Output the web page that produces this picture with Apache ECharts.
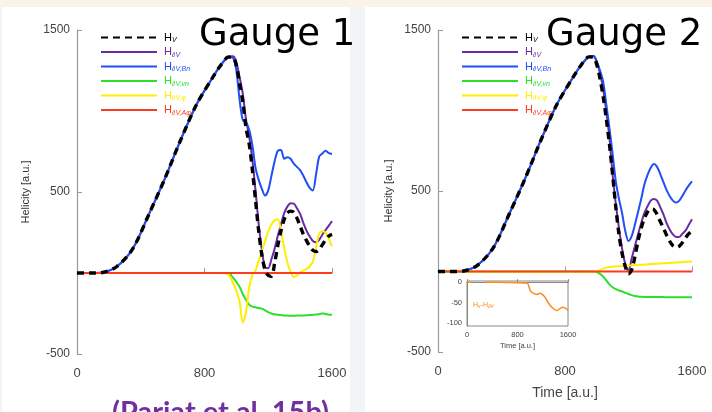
<!DOCTYPE html>
<html><head><meta charset="utf-8">
<script src="https://cdn.jsdelivr.net/npm/echarts@6.0.0/dist/echarts.min.js"></script>
<style>html,body{margin:0;padding:0;width:712px;height:412px;overflow:hidden;background:#fff}#c{width:712px;height:412px}</style>
</head><body><div id="c"></div><script>
// shared time axis for the helicity curves
const T = [0,100,160,250,350,450,550,650,750,850,900,950,980,1000,1020,1040,1060,1080,1100,1120,1140,1160,1180,1200,1220,1240,1260,1280,1300,1320,1340,1360,1380,1400,1420,1440,1460,1480,1500,1520,1540,1560,1580,1600];
// time axis for the boundary-flux terms (flat zero before ~900)
const T2 = [0,900,950,980,1000,1020,1040,1060,1080,1100,1120,1140,1160,1180,1200,1220,1240,1260,1280,1300,1320,1340,1360,1380,1400,1420,1440,1460,1480,1500,1520,1540,1560,1580,1600];
const RISE = [0,0,3,40,150,360,580,820,1040,1205,1280,1333];

// Gauge 1
const g1_Hv   = RISE.concat([1330,1280,1170,1060,900,800,640,450,260,110,20,-15,-20,60,170,260,330,370,382,375,340,290,240,200,165,140,132,145,175,205,228,238]);
const g1_HdV  = RISE.concat([1338,1300,1210,1108,950,845,700,510,300,140,35,30,85,150,230,300,370,410,430,428,400,365,310,262,225,198,190,205,238,265,292,320]);
const g1_Bn   = RISE.concat([1325,1250,1070,945,930,885,790,650,575,520,478,510,600,690,755,760,705,715,705,675,655,635,600,560,525,510,610,720,738,755,740,735]);
const g1_vn   = [0,0,0,-30,-55,-85,-130,-165,-195,-208,-212,-216,-220,-230,-242,-250,-255,-258,-260,-262,-263,-264,-264,-263,-262,-262,-261,-260,-258,-256,-253,-250,-253,-257,-258];
const g1_phi  = [0,0,-10,-65,-110,-175,-305,-245,-90,-15,15,75,135,195,255,300,325,332,260,155,65,10,-25,-15,5,15,25,40,70,160,245,258,250,210,165];
// Gauge 2
const g2_Hv   = RISE.concat([1330,1285,1200,1090,950,790,600,400,230,110,30,-15,10,90,190,270,330,370,388,385,355,310,270,225,187,160,150,158,180,210,235,250]);
const g2_HdV  = RISE.concat([1337,1300,1235,1135,995,830,600,420,270,140,45,5,80,155,230,300,365,405,440,450,440,400,355,300,260,230,214,215,235,255,290,325]);
const g2_Bn   = RISE.concat([1338,1305,1250,1180,1040,890,730,560,450,360,250,190,220,290,370,450,540,600,645,668,650,605,555,505,468,440,428,440,470,505,535,560]);
const g2_vn   = [0,0,0,0,-3,-15,-31,-55,-80,-98,-110,-118,-124,-132,-140,-147,-152,-155,-157,-158,-158,-159,-159,-159,-159,-159,-160,-160,-160,-160,-160,-160,-160,-160,-160];
const g2_phi  = [0,-3,-2,0,2,8,18,24,28,30,31,33,34,35,37,38,40,41,42,43,44,46,47,48,50,51,52,53,55,56,57,58,60,61,62];
// A-phi term: zero throughout
const RT = [0,1600];
const g_Aphi = [0,0];
// inset Hv - H∂V (Gauge 2)
const IT = [0,80,150,285,500,700,950,1000,1045,1110,1156,1236,1283,1346,1426,1473,1520,1584,1600];
const ID = [0,0,null,0,0,-1,-2,-20,-27,-30,-27,-37,-50,-62,-70,-65,-62,-67,-70];

const X_TICKS = [0,800,1600];
const Y_TICKS = [-500,500,1500];
const IY_TICKS = [0,-50,-100];
const NAMES = ['Hv','H∂V','H∂V,Bn','H∂V,vn','H∂V,φ','H∂V,Aφ'];
const SUBS  = ['V','∂V','∂V,Bn','∂V,vn','∂V,φ','∂V,Aφ'];
const COLORS = ['#000000','#6b2aa0','#1f4ff5','#2ae02a','#ffee00','#ff3b1f'];

function zip(t, v){ return t.map((x,i)=>[x, v[i]]); }
const plain = v => String(v);

const rich = {};
COLORS.forEach((c,i)=>{
  rich['h'+i] = {fontSize:11, color:c, lineHeight:14, fontFamily:'Liberation Sans'};
  rich['s'+i] = {fontSize:7, color:c, lineHeight:8, padding:[6,0,0,0], fontStyle:'italic', fontFamily:'Liberation Sans'};
});
function legendCfg(left){
  return {
    orient:'vertical', left:left, top:26, itemWidth:56, itemHeight:12, itemGap:1.5,
    selectedMode:false, itemStyle:{opacity:0},
    data: NAMES.map(n=>({name:n})),
    formatter: n => { const i = NAMES.indexOf(n); return '{h'+i+'|H}{s'+i+'|'+SUBS[i]+'}'; },
    textStyle:{rich:rich, padding:[0,0,0,2]}
  };
}

const axisCol = '#9a9a9a';
function mainX(gi, withName){
  return {gridIndex:gi, type:'value', min:0, max:1600, interval:800,
    axisLine:{lineStyle:{color:axisCol, width:1.2}},
    axisTick:{inside:true, length:5, lineStyle:{color:axisCol}},
    axisLabel:{fontSize:13, color:'#444', margin:13, fontFamily:'Liberation Sans', customValues:X_TICKS, formatter:plain},
    splitLine:{show:false},
    name: withName ? 'Time [a.u.]' : '', nameLocation:'middle', nameGap:34,
    nameTextStyle:{fontSize:14, color:'#444', fontFamily:'Liberation Sans'}};
}
function mainY(gi, gap){
  return {gridIndex:gi, type:'value', min:-500, max:1500, interval:500,
    axisLine:{show:true, lineStyle:{color:axisCol, width:1.2}},
    axisTick:{show:true, inside:true, length:5, lineStyle:{color:axisCol}, customValues:Y_TICKS},
    axisLabel:{fontSize:12, color:'#444', margin:7, fontFamily:'Liberation Sans', customValues:Y_TICKS, formatter:plain},
    splitLine:{show:false},
    name:'Helicity [a.u.]', nameLocation:'middle', nameGap:gap,
    nameTextStyle:{fontSize:11, color:'#333', fontFamily:'Liberation Sans'}};
}
function line(name, gi, data, color, dashed){
  return {type:'line', name:name, xAxisIndex:gi, yAxisIndex:gi, data:data, symbol:'none',
    smooth:0.3, animation:false, z: dashed ? 5 : 3,
    lineStyle: dashed ? {color:color, width:3.4, type:[7,5]} : {color:color, width:2}, itemStyle:{color:color}};
}
function gaugeSeries(gi, hv, hdv, bn, vn, phi){
  return [
    line(NAMES[1], gi, zip(T,hdv), COLORS[1]),
    line(NAMES[2], gi, zip(T,bn), COLORS[2]),
    line(NAMES[3], gi, zip(T2,vn), COLORS[3]),
    line(NAMES[4], gi, zip(T2,phi), COLORS[4]),
    line(NAMES[5], gi, zip(RT,g_Aphi), COLORS[5]),
    line(NAMES[0], gi, zip(T,hv), COLORS[0], true)
  ];
}

const chart = echarts.init(document.getElementById('c'), null, {renderer:'canvas'});
const insetFont = {fontSize:7.5, color:'#444', fontFamily:'Liberation Sans'};
chart.setOption({
  animation:false,
  backgroundColor:'#f2f5f5',
  grid:[
    {left:77, right:380, top:30, bottom:58},
    {left:438, right:20, top:30, bottom:60},
    {left:467, right:144, top:281, bottom:86, show:true, borderColor:'#888', borderWidth:1, backgroundColor:'#fff', z:6}
  ],
  legend:[legendCfg(95), legendCfg(456)],
  xAxis:[mainX(0,false), mainX(1,true),
    {gridIndex:2, type:'value', min:0, max:1600, interval:800, z:7,
     axisLine:{lineStyle:{color:'#888'}}, axisTick:{inside:true, length:3, lineStyle:{color:'#888'}},
     axisLabel:Object.assign({margin:5, customValues:X_TICKS, formatter:plain}, insetFont), splitLine:{show:false},
     name:'Time [a.u.]', nameLocation:'middle', nameGap:16, nameTextStyle:insetFont}],
  yAxis:[mainY(0,46), mainY(1,44),
    {gridIndex:2, type:'value', min:-108, max:3, z:7,
     axisLine:{show:true, lineStyle:{color:'#888'}}, axisTick:{show:false},
     axisLabel:Object.assign({margin:5, customValues:IY_TICKS, formatter:plain}, insetFont), splitLine:{show:false}}],
  series: gaugeSeries(0, g1_Hv, g1_HdV, g1_Bn, g1_vn, g1_phi)
    .concat(gaugeSeries(1, g2_Hv, g2_HdV, g2_Bn, g2_vn, g2_phi))
    .concat([{type:'line', name:'Hv-H∂V', xAxisIndex:2, yAxisIndex:2, data:zip(IT,ID), symbol:'none',
      smooth:0.3, connectNulls:false, z:8, lineStyle:{color:'#ff8a1e', width:1.5}}]),
  graphic:[
    {type:'rect', z:-10, silent:true, shape:{x:0,y:0,width:712,height:8}, style:{fill:'#fbf3ea'}},
    {type:'rect', z:-9, silent:true, shape:{x:2,y:7,width:348,height:405}, style:{fill:'#ffffff'}},
    {type:'rect', z:-9, silent:true, shape:{x:365,y:7,width:347,height:405}, style:{fill:'#ffffff'}},
    {type:'rect', z:50, silent:true, shape:{x:95,y:378,width:255,height:34}, style:{fill:'#ffffff'}},
    {type:'text', z:100, silent:true, style:{x:112, y:413, text:'(Pariat et al. 15b)', font:'bold 29px Lato', fill:'#7030a0', verticalAlign:'middle'}},
    {type:'text', z:100, silent:true, style:{x:199, y:35, text:'Gauge 1', font:'37px "DejaVu Sans"', fill:'#000', verticalAlign:'middle'}},
    {type:'text', z:100, silent:true, style:{x:546, y:35, text:'Gauge 2', font:'37px "DejaVu Sans"', fill:'#000', verticalAlign:'middle'}},
    {type:'text', z:100, silent:true, style:{x:473, y:305, text:'{a|H}{b|v}{a|-H}{b|∂V}', fill:'#ff8a1e', verticalAlign:'middle',
      rich:{a:{fontSize:7, color:'#ff8a1e', fontFamily:'Liberation Sans'}, b:{fontSize:5, color:'#ff8a1e', padding:[3,0,0,0], fontFamily:'Liberation Sans'}}}}
  ]
});
</script></body></html>
